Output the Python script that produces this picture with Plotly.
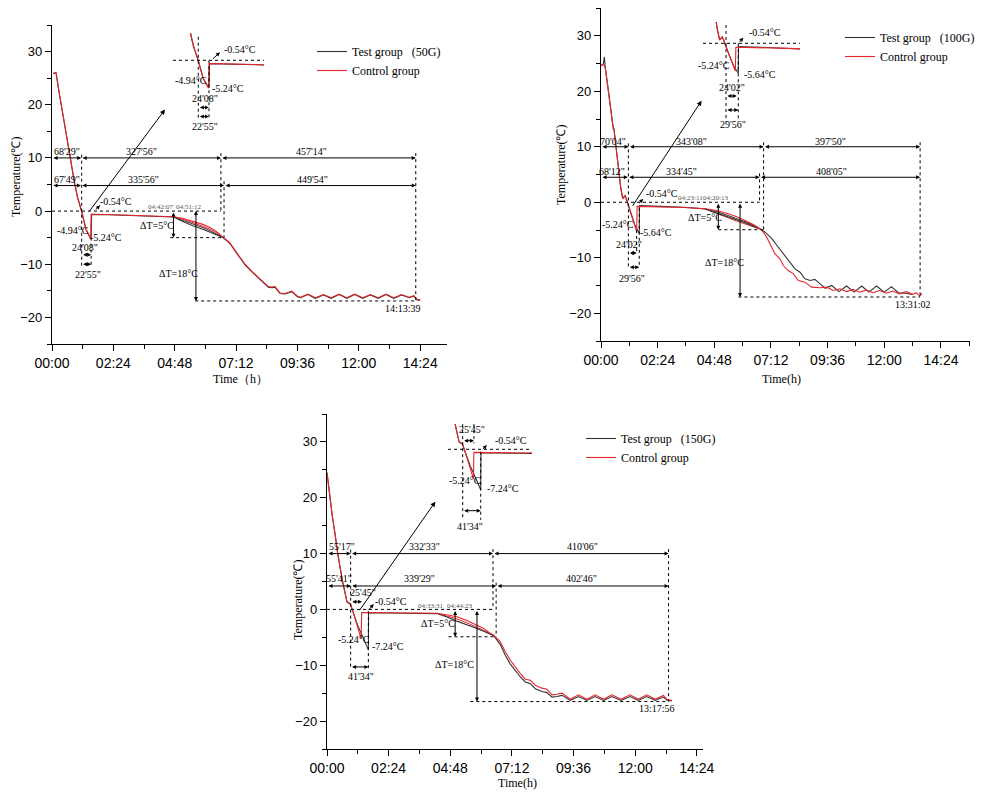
import plotly.graph_objects as go

# The page body has an 8px default margin, so the figure is sized to fit the 987x794 window
OFF = 8
FW, FH = 987 - OFF, 794 - OFF

# ---------------- data (time in hours, temperature in °C) ----------------
# Panel 1 : 50G
test50_t = [0.05, 0.16, 0.25, 0.38, 0.51, 0.64, 0.73, 0.86, 0.99, 1.16, 1.33, 1.53, 1.55, 2.2, 3.18, 4.0, 4.75, 5.1, 5.53, 5.9,
            6.18, 6.45, 6.64, 6.8, 6.96, 7.22, 7.55, 7.81, 8.07, 8.27, 8.46, 8.6, 8.72, 8.92, 9.12, 9.38, 9.6, 9.72, 10.01, 10.3,
            10.62, 10.92, 11.23, 11.53, 11.84, 12.15, 12.45, 12.76, 13.06, 13.37, 13.67, 13.97, 14.15, 14.28, 14.4]
test50_T = [25.9, 26.0, 23.1, 19.6, 15.9, 12.1, 9.6, 5.8, 2.7, -0.1, -3.5, -5.24, -0.62, -0.68, -0.82, -0.97, -1.1, -1.9, -2.8, -3.4,
            -4.0, -4.5, -4.85, -5.4, -6.1, -7.9, -10.1, -11.4, -12.6, -13.6, -14.3, -14.4, -14.3, -15.5, -15.6, -15.15, -16.1, -16.3, -15.7, -16.4,
            -15.8, -16.4, -15.7, -16.4, -15.7, -16.4, -15.8, -16.4, -15.7, -16.4, -15.8, -16.3, -16.0, -16.7, -16.8]
ctrl50_t = [0.05, 0.16, 0.25, 0.38, 0.51, 0.64, 0.73, 0.86, 0.99, 1.16, 1.33, 1.51, 1.53, 2.2, 3.18, 4.0, 4.75, 5.1, 5.53, 5.9,
            6.18, 6.45, 6.64, 6.8, 6.96, 7.22, 7.55, 7.81, 8.07, 8.27, 8.46, 8.6, 8.72, 8.92, 9.12, 9.38, 9.6, 9.72, 10.01, 10.3,
            10.62, 10.92, 11.23, 11.53, 11.84, 12.15, 12.45, 12.76, 13.06, 13.37, 13.67, 13.97, 14.15, 14.28, 14.4]
ctrl50_T = [25.9, 26.0, 23.2, 19.7, 16.0, 12.2, 9.7, 5.9, 2.8, 0.0, -3.4, -5.24, -0.6, -0.65, -0.8, -0.95, -1.07, -1.35, -1.9, -2.5,
            -3.1, -3.9, -4.7, -5.3, -6.0, -7.8, -10.0, -11.3, -12.5, -13.5, -14.2, -14.3, -14.2, -15.4, -15.5, -15.05, -16.0, -16.2, -15.6, -16.3,
            -15.7, -16.3, -15.6, -16.3, -15.6, -16.3, -15.7, -16.3, -15.6, -16.3, -15.7, -16.2, -15.9, -16.6, -16.7]
fan50_t = [4.75, 5.1, 5.53, 5.9, 6.18, 6.45, 6.64]
fan50_test = [-1.1, -1.7, -2.5, -3.1, -3.7, -4.3, -4.8]
fan50_ctrl = [-1.07, -1.5, -2.2, -2.8, -3.4, -4.1, -4.75]

# Panel 2 : 100G
test100_t = [0.0, 0.1, 0.14, 0.18, 0.31, 0.45, 0.52, 0.55, 0.69, 0.83, 0.92, 1.02, 1.09, 1.26, 1.45, 1.62, 1.63, 2.5, 3.5, 4.4,
             4.9, 5.39, 5.75, 6.1, 6.45, 6.73, 6.95, 7.23, 7.51, 7.79, 8.0, 8.22, 8.43, 8.64, 8.86, 9.06, 9.28, 9.5, 9.77, 10.08,
             10.4, 10.72, 11.04, 11.35, 11.67, 12.0, 12.3, 12.6, 12.9, 13.2]
test100_T = [24.6, 24.9, 26.2, 24.3, 20.2, 14.8, 13.3, 13.2, 7.6, 2.8, 0.7, 1.2, 0.4, -2.0, -4.3, -5.64, -0.6, -0.75, -0.9, -1.2,
             -1.9, -2.7, -3.2, -3.7, -4.3, -4.8, -5.4, -6.5, -8.1, -9.6, -10.8, -12.0, -12.6, -13.8, -14.1, -13.9, -14.7, -15.5, -15.0, -16.1,
             -15.1, -16.2, -15.1, -16.2, -15.1, -16.2, -15.2, -16.3, -16.4, -16.6]
ctrl100_t = [0.0, 0.1, 0.18, 0.31, 0.45, 0.52, 0.55, 0.69, 0.83, 0.92, 1.02, 1.09, 1.26, 1.51, 1.53, 2.5, 3.5, 4.4, 4.9, 5.39,
             5.75, 6.1, 6.45, 6.73, 6.8, 7.02, 7.23, 7.37, 7.58, 7.72, 7.93, 8.15, 8.36, 8.64, 8.92, 9.28, 9.56, 9.84, 10.12, 10.4,
             10.68, 10.96, 11.24, 11.52, 11.8, 12.08, 12.36, 12.64, 12.92, 13.2, 13.35, 13.5, 13.6]
ctrl100_T = [24.6, 24.9, 24.3, 20.1, 14.7, 13.2, 13.2, 7.5, 2.7, 0.6, 1.2, 0.3, -2.1, -5.24, -0.75, -0.8, -0.95, -1.17, -1.5, -2.07,
             -2.6, -3.3, -4.0, -4.77, -4.95, -6.3, -8.1, -9.3, -10.2, -11.4, -12.3, -12.9, -14.1, -14.4, -15.3, -15.4, -15.3, -15.9, -15.6, -16.1,
             -15.7, -16.2, -15.8, -16.3, -15.9, -16.4, -16.0, -16.5, -16.1, -16.6, -16.3, -16.9, -16.4]
fan100_t = [4.4, 4.9, 5.39, 5.75, 6.1, 6.45, 6.73]
fan100_test = [-1.2, -1.7, -2.4, -2.9, -3.5, -4.1, -4.78]
fan100_ctrl = [-1.17, -2.0, -2.9, -3.4, -3.9, -4.4, -4.8]

# Panel 3 : 150G
test150_t = [0.0, 0.1, 0.2, 0.3, 0.42, 0.6, 0.78, 0.91, 1.2, 1.45, 1.61, 1.62, 2.0, 3.0, 4.28, 4.7, 5.06, 5.45, 5.84, 6.1,
             6.36, 6.49, 6.75, 6.94, 7.14, 7.33, 7.53, 7.72, 7.92, 8.11, 8.37, 8.56, 8.76, 8.95, 9.15, 9.47, 9.79, 10.12, 10.44, 10.77,
             11.09, 11.45, 11.8, 12.12, 12.45, 12.78, 13.1, 13.25, 13.43]
test150_T = [24.5, 20.4, 16.9, 13.9, 9.9, 5.1, 1.3, 0.9, -2.9, -5.5, -7.24, -0.6, -0.65, -0.7, -0.75, -1.4, -2.1, -2.7, -3.4, -3.9,
             -4.5, -4.7, -6.3, -8.2, -9.8, -11.0, -12.1, -13.0, -13.3, -14.2, -14.7, -14.9, -15.7, -15.6, -15.4, -16.3, -15.6, -16.3, -15.6, -16.3,
             -15.6, -16.3, -15.6, -16.3, -15.6, -16.3, -15.7, -16.3, -16.4]
ctrl150_t = [0.0, 0.1, 0.2, 0.3, 0.42, 0.6, 0.78, 0.91, 1.1, 1.33, 1.35, 2.0, 3.0, 4.28, 4.7, 5.06, 5.45, 5.84, 6.1, 6.36,
             6.49, 6.75, 6.94, 7.14, 7.33, 7.53, 7.72, 7.92, 8.11, 8.37, 8.56, 8.76, 8.95, 9.15, 9.47, 9.79, 10.12, 10.44, 10.77, 11.09,
             11.45, 11.8, 12.12, 12.45, 12.78, 13.1, 13.25, 13.43]
ctrl150_T = [24.5, 20.5, 17.0, 14.0, 10.0, 5.2, 1.36, 1.07, -1.9, -5.24, -0.55, -0.6, -0.65, -0.7, -1.0, -1.3, -2.0, -2.8, -3.4, -4.3,
             -4.6, -5.8, -7.6, -9.1, -10.3, -11.5, -12.5, -12.7, -13.6, -14.1, -14.3, -15.3, -15.2, -15.0, -16.1, -15.3, -16.1, -15.3, -16.1, -15.3,
             -16.1, -15.3, -16.1, -15.3, -16.1, -15.4, -16.2, -16.3]
fan150_t = [4.28, 4.7, 5.06, 5.45, 5.84, 6.1, 6.36, 6.49]
fan150_ctrl = [-0.7, -1.2, -1.7, -2.4, -3.2, -3.8, -4.4, -4.6]

# stage durations (minutes, seconds)
dur50_up = [(68, 29), (327, 56), (457, 14)]
dur50_lo = [(67, 49), (335, 56), (449, 54)]
dur100_up = [(70, 4), (343, 8), (397, 50)]
dur100_lo = [(68, 12), (334, 45), (408, 5)]
dur150_up = [(55, 17), (332, 33), (410, 6)]
dur150_lo = [(55, 41), (339, 29), (402, 46)]

x_tickvals = [0, 2.4, 4.8, 7.2, 9.6, 12.0, 14.4]
x_ticktext = ['00:00', '02:24', '04:48', '07:12', '09:36', '12:00', '14:24']
x_minor = [1.2, 3.6, 6.0, 8.4, 10.8, 13.2, 15.6]
y_tickvals = [-20, -10, 0, 10, 20, 30]
y_minor = [-25, -15, -5, 5, 15, 25, 35]

RED = '#e8242c'
BLK = '#333333'
SERIF = 'Liberation Serif'
NB = '\u00a0'


def fx(px):
    return (px - OFF) / FW


def fy(py):
    return 1 - (py - OFF) / FH


def cum(durs):
    out = [0.0]
    for m, s in durs:
        out.append(out[-1] + (m + s / 60.0) / 60.0)
    return out


def fmt(d):
    return "%d'%02d\"" % d


fig = go.Figure()


def add_lines(tt, tT, ct, cT, fan_t, fan_sets, group, xa, ya, xi, yi, leg):
    for arr, col in fan_sets:
        fig.add_trace(go.Scatter(x=fan_t, y=arr, mode='lines', line=dict(color=col, width=1),
                                 showlegend=False, xaxis=xa, yaxis=ya, hoverinfo='skip'))
    fig.add_trace(go.Scatter(x=tt, y=tT, mode='lines', line=dict(color=BLK, width=1.1),
                             name='Test group' + NB * 3 + '(%s)' % group, xaxis=xa, yaxis=ya, legend=leg))
    fig.add_trace(go.Scatter(x=ct, y=cT, mode='lines', line=dict(color=RED, width=1.1),
                             name='Control group', xaxis=xa, yaxis=ya, legend=leg))
    fig.add_trace(go.Scatter(x=tt, y=tT, mode='lines', line=dict(color=BLK, width=1.1),
                             showlegend=False, xaxis=xi, yaxis=yi))
    fig.add_trace(go.Scatter(x=ct, y=cT, mode='lines', line=dict(color=RED, width=1.1),
                             showlegend=False, xaxis=xi, yaxis=yi))


add_lines(test50_t, test50_T, ctrl50_t, ctrl50_T, fan50_t, [(fan50_test, BLK), (fan50_ctrl, RED)],
          '50G', 'x', 'y', 'x4', 'y4', 'legend')
add_lines(test100_t, test100_T, ctrl100_t, ctrl100_T, fan100_t, [(fan100_test, BLK), (fan100_ctrl, RED)],
          '100G', 'x2', 'y2', 'x5', 'y5', 'legend2')
add_lines(test150_t, test150_T, ctrl150_t, ctrl150_T, fan150_t, [(fan150_ctrl, RED)],
          '150G', 'x3', 'y3', 'x6', 'y6', 'legend3')

ann = []
shp = []


def arrow(xr, yr, x0, y0, x1, y1, both=True, size=0.8):
    ann.append(dict(x=x1, y=y1, ax=x0, ay=y0, xref=xr, yref=yr, axref=xr, ayref=yr, text='',
                    showarrow=True, arrowhead=2, startarrowhead=2,
                    arrowside='end+start' if both else 'end', arrowsize=size, startarrowsize=size,
                    arrowwidth=1, arrowcolor='black', standoff=0, startstandoff=0))


def label(xr, yr, x, y, text, size=10, xanchor='center', color='black'):
    ann.append(dict(x=x, y=y, xref=xr, yref=yr, text=text, showarrow=False,
                    font=dict(family=SERIF, size=size, color=color), xanchor=xanchor, yanchor='middle'))


def dotted(xr, yr, x0, y0, x1, y1):
    shp.append(dict(type='line', xref=xr, yref=yr, x0=x0, y0=y0, x1=x1, y1=y1,
                    line=dict(color='black', width=1, dash='dot')))


def dims(xr, yr, up, lo, y_up, y_lo, up_lx, lo_lx, up_ly, lo_ly, durs_up, durs_lo):
    for i in range(3):
        arrow(xr, yr, up[i], y_up, up[i + 1], y_up)
        arrow(xr, yr, lo[i], y_lo, lo[i + 1], y_lo)
        label(xr, yr, up_lx[i], up_ly, fmt(durs_up[i]))
        label(xr, yr, lo_lx[i], lo_ly, fmt(durs_lo[i]))


# ---------- Panel 1 ----------
u1, l1 = cum(dur50_up), cum(dur50_lo)
dims('x', 'y', u1, l1, 10, 4.8, [0.6, 3.5, 10.16], [0.57, 3.57, 10.2], 11.2, 5.9, dur50_up, dur50_lo)
dotted('x', 'y', 1.16, 10.6, 1.16, -10.4)
dotted('x', 'y', 1.53, -5.0, 1.53, -10.4)
dotted('x', 'y', u1[2], 10.9, u1[2], 0)
dotted('x', 'y', l1[2], 5.6, l1[2], -5.0)
dotted('x', 'y', u1[3], 10.9, u1[3], -16.9)
dotted('x', 'y', 0, 0, u1[2], 0)
dotted('x', 'y', 4.62, -5, l1[2], -5)
dotted('x', 'y', 5.6, -16.9, u1[3], -16.9)
arrow('x', 'y', 4.75, 0, 4.75, -5)
arrow('x', 'y', 5.63, 0.3, 5.63, -16.9)
arrow('x', 'y', 1.16, -8.2, 1.53, -8.2)
arrow('x', 'y', 1.16, -10.0, 1.53, -10.0)
arrow('x', 'y', 1.65, 0.0, 1.88, 1.1, both=False)
arrow('x', 'y', 1.42, -0.3, 4.42, 19.1, both=False, size=1)
label('x', 'y', 4.1, -2.8, 'ΔT=5°C')
label('x', 'y', 4.94, -11.7, 'ΔT=18°C')
label('x', 'y', 4.23, 0.8, '04:42:07', size=7, color='#555')
label('x', 'y', 5.33, 0.7, '04:51:12', size=7, color='#555')
label('x', 'y', 2.49, 1.75, '-0.54°C')
label('x', 'y', 0.83, -3.6, '-4.94°C')
label('x', 'y', 2.12, -5.0, '-5.24°C')
label('x', 'y', 1.29, -6.9, "24'08\"")
label('x', 'y', 1.42, -11.9, "22'55\"")
label('x', 'y', 13.72, -18.4, '14:13:39')
# inset 1
dotted('x4', 'y4', 0.285, 0, 3.43, 0)
dotted('x4', 'y4', 1.16, 4.45, 1.16, -10.94)
dotted('x4', 'y4', 1.53, 0, 1.53, -10.94)
arrow('x4', 'y4', 1.16, -8.9, 1.53, -8.9)
arrow('x4', 'y4', 1.16, -10.6, 1.53, -10.6)
arrow('x4', 'y4', 1.62, 0.06, 1.91, 1.5, both=False)
label('x4', 'y4', 1.39, -7.3, "24'08\"")
label('x4', 'y4', 1.39, -12.5, "22'55\"")
label('x4', 'y4', 0.9, -3.9, '-4.94°C')
label('x4', 'y4', 1.56, -5.4, '-5.24°C', xanchor='left')
label('x4', 'y4', 1.97, 2.08, '-0.54°C', xanchor='left')

# ---------- Panel 2 ----------
u2, l2 = cum(dur100_up), cum(dur100_lo)
dims('x2', 'y2', u2, l2, 10, 4.5, [0.52, 3.84, 9.7], [0.45, 3.42, 9.77], 11.0, 5.6, dur100_up, dur100_lo)
dotted('x2', 'y2', 1.16, 10.6, 1.16, -11.7)
dotted('x2', 'y2', 1.62, -1.0, 1.62, -11.7)
dotted('x2', 'y2', 1.51, -5.0, 1.51, -9.2)
dotted('x2', 'y2', u2[2], 10.8, u2[2], -4.95)
dotted('x2', 'y2', l2[2], 5.2, l2[2], 0)
dotted('x2', 'y2', u2[3], 10.8, u2[3], -17.07)
dotted('x2', 'y2', 0, 0, l2[2], 0)
dotted('x2', 'y2', 4.97, -4.95, u2[2], -4.95)
dotted('x2', 'y2', 5.82, -17.07, u2[3], -17.07)
arrow('x2', 'y2', 4.97, 0, 4.97, -4.95)
arrow('x2', 'y2', 5.89, 0, 5.89, -17.07)
arrow('x2', 'y2', 1.16, -9.15, 1.51, -9.15)
arrow('x2', 'y2', 1.16, -11.7, 1.62, -11.7)
arrow('x2', 'y2', 1.55, -0.4, 1.79, 0.6, both=False)
arrow('x2', 'y2', 1.3, -0.9, 4.26, 18.3, both=False, size=1)
label('x2', 'y2', 4.4, -2.7, 'ΔT=5°C')
label('x2', 'y2', 5.22, -10.8, 'ΔT=18°C')
label('x2', 'y2', 3.8, 0.8, '04:23:11', size=7, color='#555')
label('x2', 'y2', 4.85, 0.8, '04:20:13', size=7, color='#555')
label('x2', 'y2', 2.57, 1.53, '-0.54°C')
label('x2', 'y2', 0.73, -4.0, '-5.24°C')
label('x2', 'y2', 2.32, -5.4, '-5.64°C')
label('x2', 'y2', 1.2, -7.6, "24'02\"")
label('x2', 'y2', 1.3, -13.8, "29'56\"")
label('x2', 'y2', 13.23, -18.4, '13:31:02')
# inset 2
dotted('x5', 'y5', 0.299, 0, 3.93, 0)
dotted('x5', 'y5', 1.16, 3.45, 1.16, -14.8)
dotted('x5', 'y5', 1.62, 0, 1.62, -14.8)
arrow('x5', 'y5', 1.16, -9.94, 1.56, -9.94)
arrow('x5', 'y5', 1.16, -12.6, 1.62, -12.6)
arrow('x5', 'y5', 1.62, 0.0, 1.81, 1.06, both=False)
label('x5', 'y5', 1.37, -8.3, "24'02\"")
label('x5', 'y5', 1.43, -15.4, "29'56\"")
label('x5', 'y5', 1.94, 2.0, '-0.54°C', xanchor='left')
label('x5', 'y5', 0.71, -4.2, '-5.24°C')
label('x5', 'y5', 1.75, -5.8, '-5.64°C', xanchor='left')

# ---------- Panel 3 ----------
u3, l3 = cum(dur150_up), cum(dur150_lo)
dims('x3', 'y3', u3, l3, 10, 4.2, [0.58, 3.79, 9.93], [0.45, 3.61, 9.89], 11.3, 5.55, dur150_up, dur150_lo)
dotted('x3', 'y3', 0.92, 10.7, 0.92, -10.5)
dotted('x3', 'y3', 1.61, -0.3, 1.61, -10.5)
dotted('x3', 'y3', u3[2], 10.8, u3[2], 0)
dotted('x3', 'y3', l3[2], 4.8, l3[2], -4.9)
dotted('x3', 'y3', u3[3], 10.8, u3[3], -16.5)
dotted('x3', 'y3', 0, 0, u3[2], 0)
dotted('x3', 'y3', 4.73, -4.9, l3[2], -4.9)
dotted('x3', 'y3', 5.58, -16.5, u3[3], -16.5)
arrow('x3', 'y3', 4.99, 0, 4.99, -4.9)
arrow('x3', 'y3', 5.84, 0, 5.84, -16.5)
arrow('x3', 'y3', 0.93, 1.36, 1.36, 1.36)
arrow('x3', 'y3', 0.92, -10.3, 1.61, -10.3)
arrow('x3', 'y3', 1.56, -0.4, 1.82, 0.95, both=False)
arrow('x3', 'y3', 1.23, -0.4, 4.22, 19.3, both=False, size=1)
label('x3', 'y3', 4.33, -2.5, 'ΔT=5°C')
label('x3', 'y3', 4.98, -9.85, 'ΔT=18°C')
label('x3', 'y3', 4.04, 0.7, '04:33:31', size=7, color='#555')
label('x3', 'y3', 5.16, 0.7, '04:44:23', size=7, color='#555')
label('x3', 'y3', 1.39, 2.97, "25'45\"")
label('x3', 'y3', 2.5, 1.36, '-0.54°C')
label('x3', 'y3', 1.04, -5.3, '-5.24°C')
label('x3', 'y3', 2.37, -6.7, '-7.24°C')
label('x3', 'y3', 1.33, -12.1, "41'34\"")
label('x3', 'y3', 12.84, -17.7, '13:17:56')
# inset 3
dotted('x6', 'y6', 0.357, 0, 3.57, 0)
dotted('x6', 'y6', 0.92, 4.5, 0.92, -12.6)
dotted('x6', 'y6', 1.61, -0.43, 1.61, -12.6)
dotted('x6', 'y6', 1.35, 4.5, 1.35, 1.07)
arrow('x6', 'y6', 0.92, 1.54, 1.35, 1.54)
arrow('x6', 'y6', 0.92, -10.96, 1.61, -10.96)
arrow('x6', 'y6', 1.65, -0.25, 1.84, 0.77, both=False)
label('x6', 'y6', 1.26, 3.45, "25'45\"")
label('x6', 'y6', 2.09, 1.66, '-0.54°C', xanchor='left')
label('x6', 'y6', 1.01, -5.66, '-5.24°C')
label('x6', 'y6', 1.77, -6.96, '-7.24°C', xanchor='left')
label('x6', 'y6', 1.2, -13.7, "41'34\"")

# axis titles
titles = [
    ('Temperature(℃)', 16, 177, -90), ('Time（h）', 240, 379, 0),
    ('Temperature(℃)', 561, 165, -90), ('Time(h)', 781, 379, 0),
    ('Temperature(℃)', 298, 600, -90), ('Time(h)', 518, 783, 0),
]
for txt, px, py, ang in titles:
    ann.append(dict(x=fx(px), y=fy(py), xref='paper', yref='paper', text=txt, showarrow=False,
                    textangle=ang, font=dict(family=SERIF, size=12, color='black'),
                    xanchor='center', yanchor='middle'))


def xaxis(d0, d1, xmax, anchor):
    return dict(domain=[fx(d0), fx(d1)], range=[0, xmax], anchor=anchor, showline=True, linecolor='black',
                linewidth=1.3, ticks='outside', ticklen=6, tickwidth=1.2, tickcolor='black', showgrid=False,
                zeroline=False, tickmode='array', tickvals=x_tickvals, ticktext=x_ticktext,
                tickfont=dict(family='Liberation Sans', size=14, color='black'),
                minor=dict(tickmode='array', tickvals=x_minor, ticks='outside', ticklen=3.5, tickcolor='black',
                           tickwidth=1), fixedrange=True)


def yaxis(top, bot, anchor):
    return dict(domain=[fy(bot), fy(top)], range=[-25, 35], anchor=anchor, showline=True,
                linecolor='black', linewidth=1.3, ticks='outside', ticklen=6, tickwidth=1.2, tickcolor='black',
                showgrid=False, zeroline=False, tickmode='array', tickvals=y_tickvals,
                tickfont=dict(family='Liberation Sans', size=13, color='black'),
                minor=dict(tickmode='array', tickvals=y_minor, ticks='outside', ticklen=3.5, tickcolor='black',
                           tickwidth=1), fixedrange=True)


def inset(x0, x1, y0, y1, xr, yr, anchor):
    return (dict(domain=[fx(x0), fx(x1)], range=xr, anchor=anchor[0], visible=False, fixedrange=True),
            dict(domain=[fy(y1), fy(y0)], range=yr, anchor=anchor[1], visible=False, fixedrange=True))


xi4, yi4 = inset(173, 264, 33, 132, [0.285, 3.433], [-13.53, 5.15], ('y4', 'x4'))
xi5, yi5 = inset(703, 800, 22, 132, [0.299, 3.931], [-16.74, 4.02], ('y5', 'x5'))
xi6, yi6 = inset(448, 532, 424, 532, [0.357, 3.575], [-14.77, 4.52], ('y6', 'x6'))

leg_common = dict(bgcolor='rgba(0,0,0,0)', font=dict(family=SERIF, size=12, color='black'),
                  xanchor='left', yanchor='top', tracegroupgap=0, itemwidth=30)

fig.update_layout(
    width=FW, height=FH, margin=dict(l=0, r=0, t=0, b=0, autoexpand=False),
    paper_bgcolor='white', plot_bgcolor='rgba(0,0,0,0)',
    xaxis=xaxis(52, 447, 15.45, 'y'), yaxis=yaxis(25, 344, 'x'),
    xaxis2=xaxis(601, 970, 15.63, 'y2'), yaxis2=yaxis(8, 341, 'x2'),
    xaxis3=xaxis(327, 703, 14.64, 'y3'), yaxis3=yaxis(414, 749, 'x3'),
    xaxis4=xi4, yaxis4=yi4, xaxis5=xi5, yaxis5=yi5, xaxis6=xi6, yaxis6=yi6,
    legend=dict(x=fx(312), y=fy(37), **leg_common),
    legend2=dict(x=fx(840), y=fy(23), **leg_common),
    legend3=dict(x=fx(581), y=fy(424), **leg_common),
    annotations=ann, shapes=shp, showlegend=True,
)

fig.write_html('out.html')
